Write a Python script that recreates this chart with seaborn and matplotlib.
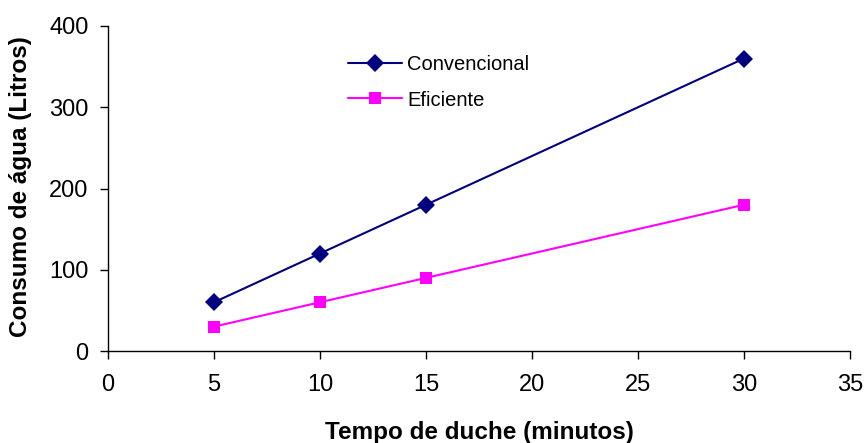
import matplotlib
matplotlib.use("Agg")
import matplotlib.pyplot as plt
import seaborn as sns
import pandas as pd

# Shower time (minutes) and water consumption (litres)
tempo = [5, 10, 15, 30]
convencional = [60, 120, 180, 360]
eficiente = [30, 60, 90, 180]

df = pd.DataFrame({
    "Tempo": tempo * 2,
    "Consumo": convencional + eficiente,
    "Tipo": ["Convencional"] * len(tempo) + ["Eficiente"] * len(tempo),
})

sns.set_theme(style="ticks")
plt.rcParams["font.family"] = ["Liberation Sans", "DejaVu Sans"]
plt.rcParams["text.color"] = "black"

fig = plt.figure(figsize=(8.66, 4.43), dpi=100)
ax = fig.add_axes([108 / 866, 1 - 351 / 443, 742 / 866, 325 / 443])

sns.lineplot(
    data=df, x="Tempo", y="Consumo", hue="Tipo", style="Tipo",
    palette={"Convencional": "#000080", "Eficiente": "#FF00FF"},
    markers={"Convencional": "D", "Eficiente": "s"},
    dashes=False, linewidth=1.5, markeredgewidth=0,
    ax=ax,
)

MARKER_SIZES = {"D": 9.6, "s": 8.8}


def size_markers(lines):
    for line in lines:
        m = line.get_marker()
        if m in MARKER_SIZES:
            line.set_markersize(MARKER_SIZES[m])


size_markers(ax.lines)

ax.set_xlim(0, 35)
ax.set_ylim(0, 400)
ax.set_xticks(range(0, 36, 5))
ax.set_yticks(range(0, 401, 100))
ax.tick_params(axis="both", labelsize=17, width=1, color="black",
               labelcolor="black", direction="out")
ax.tick_params(axis="x", length=5.5, pad=11)
ax.tick_params(axis="y", length=6, pad=8)
for s in ("left", "bottom"):
    ax.spines[s].set_color("black")
    ax.spines[s].set_linewidth(1)
sns.despine(ax=ax)

ax.set_xlabel("Tempo de duche (minutos)", fontsize=17.5, fontweight="bold", color="black")
ax.set_ylabel("Consumo de água (Litros)", fontsize=17.5, fontweight="bold", color="black")
ax.xaxis.set_label_coords(0.5, -0.215)
ax.yaxis.set_label_coords(-0.102, 0.505)

leg = ax.legend(loc="upper left", bbox_to_anchor=(348 / 866, 1 - 55 / 443),
                bbox_transform=fig.transFigure, frameon=False,
                fontsize=14.5, handlelength=2.7, labelspacing=0.82,
                handletextpad=0.25, borderpad=0, borderaxespad=0)
size_markers(leg.get_lines())
for t in leg.get_texts():
    t.set_color("black")

fig.savefig("out.png", dpi=100)
